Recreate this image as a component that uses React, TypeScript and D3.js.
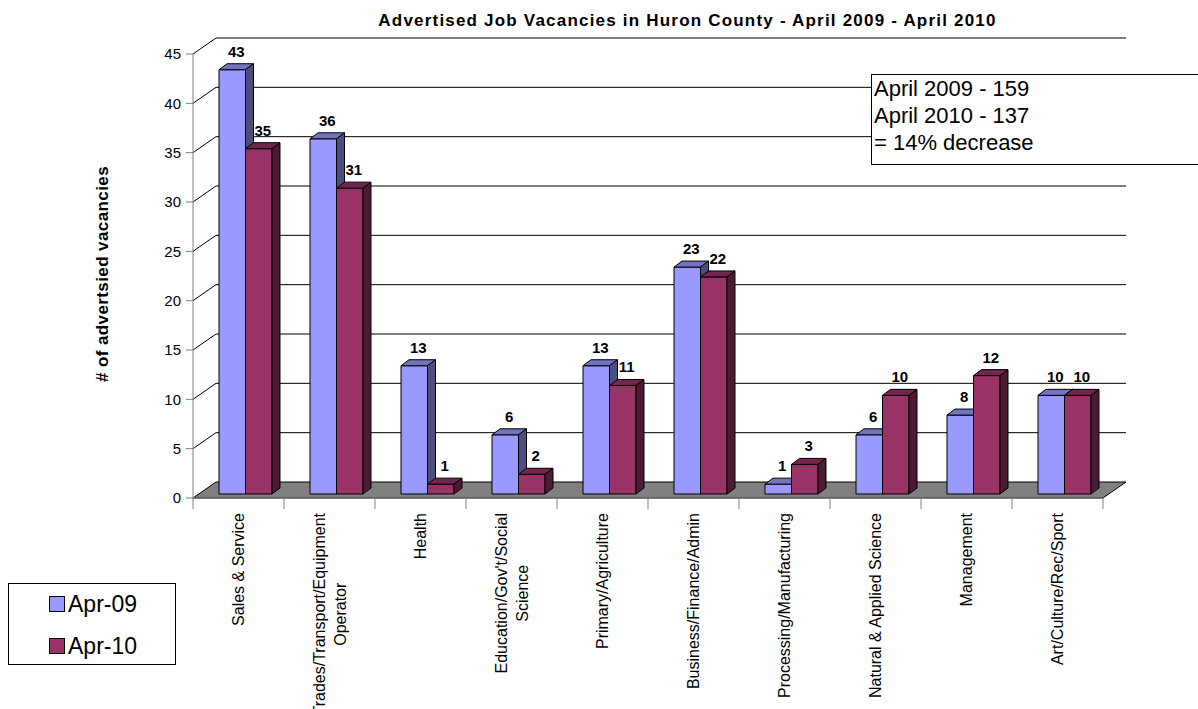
import React, { useRef, useEffect } from 'react';
import * as d3 from 'd3';

const categories = [
  'Sales & Service',
  'Trades/Transport/Equipment Operator',
  'Health',
  "Education/Gov't/Social Science",
  'Primary/Agriculture',
  'Business/Finance/Admin',
  'Processing/Manufacturing',
  'Natural & Applied Science',
  'Management',
  'Art/Culture/Rec/Sport',
];
const tickLabels = [
  ['Sales & Service'],
  ['Trades/Transport/Equipment', 'Operator'],
  ['Health'],
  ["Education/Gov't/Social", 'Science'],
  ['Primary/Agriculture'],
  ['Business/Finance/Admin'],
  ['Processing/Manufacturing'],
  ['Natural & Applied Science'],
  ['Management'],
  ['Art/Culture/Rec/Sport'],
];
const seriesNames = ['Apr-09', 'Apr-10'];
const apr09 = [43, 36, 13, 6, 13, 23, 1, 6, 8, 10];
const apr10 = [35, 31, 1, 2, 11, 22, 3, 10, 12, 10];
const yTicks = [0, 5, 10, 15, 20, 25, 30, 35, 40, 45];
const noteLines = ['April 2009 - 159', 'April 2010 - 137', '= 14% decrease'];

const FONT = '"Liberation Sans", Arial, sans-serif';
const colors = [
  { front: '#9999FF', top: '#7373C0', side: '#4D4D80' },
  { front: '#993366', top: '#73264D', side: '#4D1A33' },
];

export default function App() {
  const svgRef = useRef<SVGSVGElement>(null);

  useEffect(() => {
    if (!svgRef.current) return;
    const W = 1198, H = 709;
    const svg = d3.select(svgRef.current);
    svg.selectAll('*').remove();
    svg.attr('width', W).attr('height', H).attr('viewBox', `0 0 ${W} ${H}`);

    // wall depth and bar depth (3D offsets)
    const wdx = 23, wdy = -16;
    const fdx = 7, fdy = -4;
    const bdx = 8, bdy = -6;

    const x = d3.scaleBand<string>().domain(categories).range([193, 1103]).padding(0);
    const xInner = d3.scaleBand<string>().domain(seriesNames).range([0, x.bandwidth()]).paddingInner(0).paddingOuter(0.717);
    const y = d3.scaleLinear().domain([0, 45]).range([498, 54]);

    // back wall gridlines + side wall diagonals
    const grid = svg.append('g').attr('stroke', '#000').attr('stroke-width', 1);
    yTicks.filter((v) => v > 0).forEach((v) => {
      const yf = y(v);
      grid.append('line').attr('x1', 193).attr('y1', yf).attr('x2', 193 + wdx).attr('y2', yf + wdy);
      grid.append('line').attr('x1', 193 + wdx).attr('y1', yf + wdy).attr('x2', 1103 + wdx).attr('y2', yf + wdy);
    });

    // floor
    const y0 = y(0);
    svg.append('polygon')
      .attr('points', [[193, y0], [1103, y0], [1103 + wdx, y0 + wdy], [193 + wdx, y0 + wdy]].map((p) => p.join(',')).join(' '))
      .attr('fill', '#808080').attr('stroke', '#000').attr('stroke-width', 1);

    // bars
    const bars = svg.append('g').attr('stroke', '#000').attr('stroke-width', 1).attr('stroke-linejoin', 'round');
    const labels = svg.append('g').attr('font-family', FONT).attr('font-weight', 'bold').attr('font-size', 15).attr('text-anchor', 'middle').attr('fill', '#000');
    categories.forEach((cat, i) => {
      [apr09[i], apr10[i]].forEach((val, s) => {
        const c = colors[s];
        const x0 = (x(cat) as number) + (xInner(seriesNames[s]) as number) + fdx;
        const x1 = x0 + xInner.bandwidth();
        const yb = y(0) + fdy;
        const yt = y(val) + fdy;
        const poly = (pts: number[][], fill: string) =>
          bars.append('polygon').attr('points', pts.map((p) => p.join(',')).join(' ')).attr('fill', fill);
        poly([[x0, yt], [x1, yt], [x1, yb], [x0, yb]], c.front);
        poly([[x0, yt], [x1, yt], [x1 + bdx, yt + bdy], [x0 + bdx, yt + bdy]], c.top);
        poly([[x1, yt], [x1 + bdx, yt + bdy], [x1 + bdx, yb + bdy], [x1, yb]], c.side);
        labels.append('text').attr('x', (x0 + x1) / 2 + 4).attr('y', yt - 13).text(val);
      });
    });

    // y axis
    const axis = svg.append('g').attr('stroke', '#808080').attr('stroke-width', 1);
    axis.append('line').attr('x1', 193).attr('y1', y(45)).attr('x2', 193).attr('y2', y(0));
    axis.append('line').attr('x1', 193).attr('y1', y(0)).attr('x2', 1103).attr('y2', y(0));
    yTicks.forEach((v) => {
      axis.append('line').attr('x1', 186).attr('y1', y(v)).attr('x2', 193).attr('y2', y(v));
    });
    const bounds = [...categories.map((c) => x(c) as number), 1103];
    bounds.forEach((bx) => {
      axis.append('line').attr('x1', bx).attr('y1', y(0)).attr('x2', bx).attr('y2', y(0) + 11);
    });
    const yl = svg.append('g').attr('font-family', FONT).attr('font-size', 15).attr('text-anchor', 'end').attr('fill', '#000');
    yTicks.forEach((v) => {
      yl.append('text').attr('x', 181).attr('y', y(v)).attr('dy', '0.35em').text(v);
    });

    // category labels (rotated, lines centred, block top-aligned)
    categories.forEach((cat, i) => {
      const lines = tickLabels[i];
      const g = svg.append('g').attr('font-family', FONT).attr('font-size', 16).attr('fill', '#000');
      const texts = lines.map((ln, k) =>
        g.append('text').attr('text-anchor', 'middle').attr('x', 0)
          .attr('y', (k - (lines.length - 1) / 2) * 21).attr('dy', '0.35em').text(ln));
      const L = d3.max(texts, (t) => (t.node() as SVGTextElement).getComputedTextLength()) || 0;
      const cx = (x(cat) as number) + x.bandwidth() / 2;
      g.attr('transform', `translate(${cx},${513 + L / 2}) rotate(-90)`);
    });

    // y-axis title
    svg.append('text').attr('transform', 'translate(102,274) rotate(-90)').attr('text-anchor', 'middle').attr('dy', '0.35em')
      .attr('font-family', FONT).attr('font-size', 17).attr('font-weight', 'bold').attr('letter-spacing', 0.4)
      .text('# of advertsied vacancies');

    // title
    svg.append('text').attr('x', 687.5).attr('y', 26).attr('text-anchor', 'middle')
      .attr('font-family', FONT).attr('font-size', 17).attr('font-weight', 'bold').attr('letter-spacing', 1.2)
      .text('Advertised Job Vacancies in Huron County - April 2009 - April 2010');

    // note box
    svg.append('rect').attr('x', 871.5).attr('y', 74.5).attr('width', 400).attr('height', 90).attr('fill', '#fff').attr('stroke', '#000');
    noteLines.forEach((t, k) => {
      svg.append('text').attr('x', 874).attr('y', 96 + k * 27).attr('font-family', FONT).attr('font-size', 22).text(t);
    });

    // legend
    svg.append('rect').attr('x', 8.5).attr('y', 583.5).attr('width', 167).attr('height', 81).attr('fill', '#fff').attr('stroke', '#000');
    seriesNames.forEach((name, s) => {
      const cy = 604 + s * 42;
      svg.append('rect').attr('x', 49.5).attr('y', cy - 7.5).attr('width', 15).attr('height', 15)
        .attr('fill', colors[s].front).attr('stroke', '#000');
      svg.append('text').attr('x', 68).attr('y', cy).attr('dy', '0.36em').attr('font-family', FONT).attr('font-size', 23).text(name);
    });
  }, []);

  return (
    <svg ref={svgRef} style={{ position: 'absolute', left: 0, top: 0, display: 'block', background: '#fff' }} />
  );
}
